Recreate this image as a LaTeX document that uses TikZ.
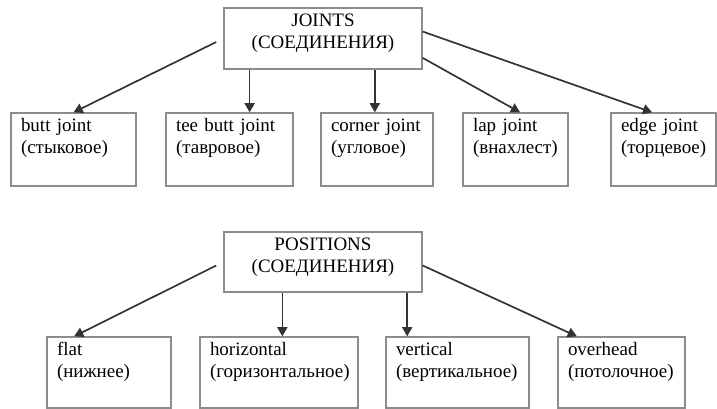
\documentclass[tikz,border=0pt]{standalone}
\usepackage{fontspec}
\setmainfont{Liberation Serif}
\usepackage{tikz}
\usetikzlibrary{shapes, arrows, arrows.meta, calc}
\hyphenpenalty=10000
\tikzstyle{group} = [rectangle, align=center, inner xsep=0.25cm, inner ysep=0.15cm, text height=0.325cm, draw=black!45, line width=0.9pt, font=\fontsize{13.5pt}{15.3pt}\selectfont]
\tikzstyle{kind} = [rectangle, align=left, inner xsep=0.25cm, inner ysep=0.15cm, text height=0.325cm, draw=black!45, line width=0.9pt, font=\fontsize{13.5pt}{15.6pt}\selectfont]
\tikzstyle{arrow} = [line width=1.2pt, draw=black!80, ->, >={Triangle[length=2.3mm, width=2.5mm]}]

\begin{document}
\begin{tikzpicture}
\useasboundingbox (0,0) rectangle (17.925,-10.225);

% Joints
\node (joints) [group, text width=4.45cm, text depth=0.9cm] at (8.075,-0.9625) {JOINTS\\(СОЕДИНЕНИЯ)};
\node (butt) [kind, below of=joints, text width=2.625cm, text depth=1.2cm, xshift=-6.2375cm, yshift=-1.775cm] {butt joint\\(стыковое)};
\node (tee) [kind, right of=butt, text width=2.675cm, text depth=1.2cm, xshift=2.9cm] {tee butt joint\\(тавровое)};
\node (corner) [kind, right of=tee, text width=2.3cm, text depth=1.2cm, xshift=2.6875cm] {corner joint\\(угловое)};
\node (lap) [kind, right of=corner, text width=2.125cm, text depth=1.2cm, xshift=2.4625cm] {lap joint\\(внахлест)};
\node (edge) [kind, right of=lap, text width=2.125cm, text depth=1.2cm, xshift=2.7cm] {edge joint\\(торцевое)};

\draw [arrow, shorten <=0.2cm] (joints.west) -- (butt.north);
\draw [arrow] (joints.203) -- (joints.203 |- tee.north);
\draw [arrow] (joints.329) -- (joints.329 |- corner.north);
\draw [arrow] (joints.349) -- (lap.83);
\draw [arrow] (joints.4) -- (edge.107);

% Positions
\node (positions) [group, below of=joints, text width=4.45cm, text depth=0.875cm, yshift=-4.5875cm] {POSITIONS\\(СОЕДИНЕНИЯ)};
\node (flat) [kind, below of=positions, text width=2.6cm, text depth=1.15cm, xshift=-5.35cm, yshift=-1.7625cm] {flat\\(нижнее)};
\node (horizontal) [kind, right of=flat, text width=3.45cm, text depth=1.15cm, xshift=3.25cm] {horizontal\\(горизонтальное)};
\node (vertical) [kind, right of=horizontal, text width=3.075cm, text depth=1.15cm, xshift=3.4625cm] {vertical\\(вертикальное)};
\node (overhead) [kind, right of=vertical, text width=2.675cm, text depth=1.15cm, xshift=3.1cm] {overhead\\(потолочное)};

\draw [arrow, shorten <=0.2cm] (positions.west) -- (flat.134);
\draw [arrow] (positions.217) -- (positions.217 |- horizontal.north);
\draw [arrow] (positions.340) -- (positions.340 |- vertical.north);
\draw [arrow] (positions.358) -- (overhead.141);

\end{tikzpicture}
\end{document}
